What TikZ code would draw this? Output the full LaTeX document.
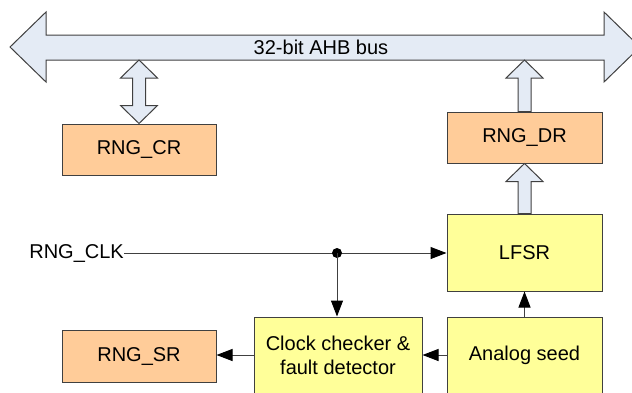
\documentclass[tikz,border=0pt]{standalone}
\usepackage{fontspec}
\setmainfont{Liberation Sans}
\usetikzlibrary{arrows.meta,calc}

\definecolor{regfill}{HTML}{FFCC99}
\definecolor{blkfill}{HTML}{FFFF99}
\definecolor{busfill}{HTML}{E4EBF5}
\definecolor{edgegray}{HTML}{404040}

\tikzset{
	every node/.style={font=\fontsize{20}{24}\selectfont, inner sep=0pt},
	reg/.style={draw=edgegray, fill=regfill, line width=1pt, minimum width=154pt, minimum height=51pt},
	blk/.style={draw=edgegray, fill=blkfill, line width=1pt, align=center, minimum width=155pt, minimum height=76pt},
	bigarrow/.style={draw=edgegray, fill=busfill, line width=1pt, line join=miter},
	sig/.style={draw=edgegray, line width=1pt, -{Triangle[length=16pt,width=12pt,color=black]}}
}

% block arrow pointing up from #1 to #2
\newcommand{\blkup}[2]{
	\draw[bigarrow] let \p1=(#1), \p2=(#2) in
	(\x1-\sw,\y1) -- (\x1-\sw,\y2-\hl) -- (\x1-\hw,\y2-\hl) -- (\x1,\y2)
	-- (\x1+\hw,\y2-\hl) -- (\x1+\sw,\y2-\hl) -- (\x1+\sw,\y1) -- cycle;
}

\begin{document}
\begin{tikzpicture}[x=1pt,y=-1pt]
\def \sw {6.5pt}  % half width of the stem
\def \hw {18.5pt} % half width of the head
\def \hl {18pt}   % length of the head

\useasboundingbox (0,0) rectangle (632,392);
\clip (0,0) rectangle (632,392);

% the bus
\draw[bigarrow] (10,47) -- (46,12) -- (46,35) -- (604,35) -- (604,12) -- (640,47)
	-- (604,82) -- (604,60) -- (46,60) -- (46,82) -- cycle;
\node (bus) at (321,47) {32-bit AHB bus};
\coordinate (busS) at (321,60);

% registers and blocks
\node[reg] (cr) at (139,149.5) {RNG\_CR};
\node[reg, minimum width=155pt] (dr) at (524.5,137.5) {RNG\_DR};
\node[reg, minimum height=52pt] (sr) at (139,356) {RNG\_SR};
\node[blk, minimum height=77pt] (lfsr) at (524.5,252.5) {LFSR};
\node[blk] (seed) at (524.5,355) {Analog seed};
\node[blk, minimum width=168pt] (chk) at (338,355) {Clock checker \&\\fault detector};
\node[anchor=east] (clk) at (124,253) {RNG\_CLK};

% block arrows
\blkup{dr.north}{dr.north |- busS}
\blkup{lfsr.north}{lfsr.north |- dr.south}
\draw[bigarrow] let \p1=(cr.north), \p2=(cr.north |- busS) in
	(\x1,\y1) -- (\x1-\hw,\y1+\hl) -- (\x1-\sw,\y1+\hl) -- (\x1-\sw,\y2-\hl)
	-- (\x1-\hw,\y2-\hl) -- (\x1,\y2) -- (\x1+\hw,\y2-\hl) -- (\x1+\sw,\y2-\hl)
	-- (\x1+\sw,\y1+\hl) -- (\x1+\hw,\y1+\hl) -- cycle;

% signals
\coordinate (tap) at (337,253);
\draw[sig] (clk.east) -- (clk.east -| lfsr.west);
\fill (tap) circle (5pt);
\draw[sig] (tap) -- (tap |- chk.north);
\draw[sig] (seed.north) -- (lfsr.south);
\draw[sig] (seed.west) -- (chk.east);
\draw[sig] (chk.west) -- (chk.west -| sr.east);
\end{tikzpicture}
\end{document}
